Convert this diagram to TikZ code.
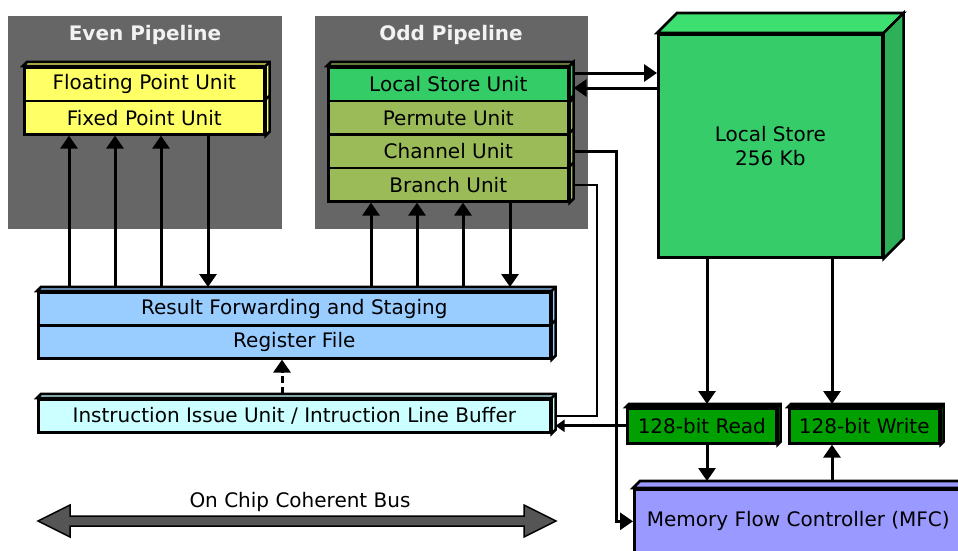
\documentclass[tikz,border=0pt]{standalone}
\usepackage{fontspec}
\setmainfont{DejaVu Sans}
\usetikzlibrary{arrows.meta,calc}
\definecolor{panelgray}{HTML}{666666}
\definecolor{unityellow}{HTML}{FFFF66}
\definecolor{lsugreen}{HTML}{33CC66}
\definecolor{olive}{HTML}{9BBB59}
\definecolor{rfblue}{HTML}{99CCFF}
\definecolor{iiucyan}{HTML}{CCFFFF}
\definecolor{busgreen}{HTML}{00A000}
\definecolor{mfcblue}{HTML}{9999FF}
\definecolor{lsfront}{HTML}{36CC6A}
\definecolor{lstop}{HTML}{3DE070}
\definecolor{lsside}{HTML}{2EB058}
\definecolor{titlewhite}{HTML}{F2F2F2}
\definecolor{busfill}{HTML}{555555}
\newcommand{\stackfaces}[4]{%
  \draw[boxline, fill=#4] (#1.north west) -- ++(#3,-#3) -- ([shift={(#3,-#3)}]#1.north east)
    -- ([shift={(#3,-#3)}]#2.south east) -- (#2.south east) -- (#1.north east) -- cycle;
  \draw[boxline] (#1.north east) -- ++(#3,-#3);}
\newcommand{\sidetick}[2]{\draw[boxline] (#1.north east) -- ++(#2,-#2);}
\begin{document}
\begin{tikzpicture}[x=1pt,y=-1pt,
  txt/.style={font=\fontsize{20}{24}\selectfont},
  boxline/.style={line width=2.6pt, line join=miter},
  panel/.style={fill=panelgray, anchor=north west, inner sep=0pt},
  title/.style={font=\fontsize{20}{24}\selectfont\bfseries, text=titlewhite},
  unitbox/.style={draw, boxline, anchor=north west, inner sep=0pt, font=\fontsize{20}{24}\selectfont},
  arr/.style={line width=3pt, -{Triangle[width=17pt,length=13pt]}},
  arrsmall/.style={line width=3pt, -{Triangle[width=12pt,length=9pt]}},
  thinline/.style={line width=2pt},
]
\useasboundingbox (0,0) rectangle (958,550);

% panels
\node[panel, minimum width=274pt, minimum height=213pt] (evenbg) at (8,16) {};
\node[panel, minimum width=273pt, minimum height=213pt] (oddbg) at (315,16) {};
\node[title] (evenT) at (145,35) {Even Pipeline};
\node[title] (oddT) at (451,35) {Odd Pipeline};

% even pipeline units
\node[unitbox, fill=unityellow, minimum width=240pt, minimum height=33.5pt] (fpu) at (23,66) {Floating Point Unit};
\node[unitbox, fill=unityellow, minimum width=240pt, minimum height=33.5pt] (fxu) at (23,99.5) {Fixed Point Unit};
\stackfaces{fpu}{fxu}{4}{unityellow}
\sidetick{fxu}{4}

% odd pipeline units
\node[unitbox, fill=lsugreen, minimum width=240pt, minimum height=33.5pt] (lsu) at (327,66) {Local Store Unit};
\node[unitbox, fill=olive, minimum width=240pt, minimum height=33.5pt] (pu) at (327,99.5) {Permute Unit};
\node[unitbox, fill=olive, minimum width=240pt, minimum height=33.5pt] (cu) at (327,133) {Channel Unit};
\node[unitbox, fill=olive, minimum width=240pt, minimum height=33.5pt] (bu) at (327,166.5) {Branch Unit};
\stackfaces{lsu}{bu}{4}{olive}
\draw[boxline, fill=lsugreen] (lsu.north east) -- ++(4,-4) -- ([shift={(4,-4)}]lsu.south east) -- (lsu.south east) -- cycle;
\sidetick{pu}{4}\sidetick{cu}{4}\sidetick{bu}{4}

% local store
\node[unitbox, fill=lsfront, minimum width=224pt, minimum height=223pt, align=center] (ls) at (657,33) {Local Store\\256 Kb};
\draw[boxline, fill=lstop] (ls.north west) -- ++(20,-20) -- ([shift={(20,-20)}]ls.north east) -- (ls.north east) -- cycle;
\draw[boxline, fill=lsside] (ls.north east) -- ++(20,-20) -- ([shift={(20,-20)}]ls.south east) -- (ls.south east) -- cycle;

% register file stack
\node[unitbox, fill=rfblue, minimum width=512pt, minimum height=33pt] (rf) at (37,291) {Result Forwarding and Staging};
\node[unitbox, fill=rfblue, minimum width=512pt, minimum height=33pt] (regf) at (37,324) {Register File};
\stackfaces{rf}{regf}{4}{rfblue}
\sidetick{regf}{4}

% instruction issue unit
\node[unitbox, fill=iiucyan, minimum width=512pt, minimum height=33pt] (iiu) at (37,398) {Instruction Issue Unit / Intruction Line Buffer};
\stackfaces{iiu}{iiu}{4}{iiucyan}

% 128-bit read / write
\node[unitbox, fill=busgreen, minimum width=149pt, minimum height=35pt] (read) at (626,407) {128-bit Read};
\stackfaces{read}{read}{3}{busgreen}
\node[unitbox, fill=busgreen, minimum width=150pt, minimum height=35pt] (write) at (788,407) {128-bit Write};
\stackfaces{write}{write}{3}{busgreen}

% MFC
\node[unitbox, fill=mfcblue, minimum width=328pt, minimum height=64pt] (mfc) at (633,488) {Memory Flow Controller (MFC)};
\stackfaces{mfc}{mfc}{7}{mfcblue}

% helper coordinates
\coordinate (rftop) at ([yshift=4pt]rf.north);
\coordinate (iiutop) at ([yshift=4pt]iiu.north);
\coordinate (mfctop) at ([yshift=7pt]mfc.north);
\coordinate (readtop) at ([yshift=3pt]read.north);
\coordinate (writetop) at ([yshift=3pt]write.north);
\coordinate (lsuR) at ([xshift=4pt]lsu.east);
\coordinate (cuR) at ([xshift=4pt]cu.east);
\coordinate (buR) at ([xshift=4pt]bu.east);
\coordinate (iiuR) at ([xshift=4pt]iiu.east);
\coordinate (e1) at (69,0);
\coordinate (e2) at (115,0);
\coordinate (e3) at (161,0);
\coordinate (e4) at (208,0);
\coordinate (o1) at (371,0);
\coordinate (o2) at (417,0);
\coordinate (o3) at (463,0);
\coordinate (o4) at (510,0);
\coordinate (ya) at (0,73);
\coordinate (yb) at (0,88);
\coordinate (chx) at (616,0);
\coordinate (brx) at (597,0);
\coordinate (rx) at (707,0);
\coordinate (wx) at (832,0);
\coordinate (dx) at (282,0);

% even pipeline connectors
\foreach \c in {e1,e2,e3} \draw[arr] (rftop -| \c) -- (fxu.south -| \c);
\draw[arr] (fxu.south -| e4) -- (rftop -| e4);
% odd pipeline connectors
\foreach \c in {o1,o2,o3} \draw[arr] (rftop -| \c) -- (bu.south -| \c);
\draw[arr] (bu.south -| o4) -- (rftop -| o4);

% LSU <-> local store
\draw[arr] (lsuR |- ya) -- (ls.west |- ya);
\draw[arr] (ls.west |- yb) -- (lsuR |- yb);

% channel unit -> MFC
\draw[arr] (cuR) -- (cuR -| chx) -- (chx |- mfc.west) -- (mfc.west);
% branch unit -> IIU
\draw[thinline] (buR) -- (buR -| brx) -- (brx |- iiu.east) -- (iiuR |- iiu.east);
% read -> IIU
\draw[arrsmall] (read.west) -- (iiuR |- read.west);

% local store -> read / write
\draw[arr] (ls.south -| rx) -- (readtop -| rx);
\draw[arr] (ls.south -| wx) -- (writetop -| wx);
\draw[arr] (read.south -| rx) -- (mfctop -| rx);
\draw[arr] (mfctop -| wx) -- (write.south -| wx);

% IIU -> register file (dashed)
\draw[arr, dash pattern=on 7pt off 4pt] (iiutop -| dx) -- (regf.south -| dx);

% on chip coherent bus
\draw[fill=busfill, line width=1.5pt, line join=miter]
  (38,521) -- (70,505) -- (70,516) -- (524,516) -- (524,505) -- (556,521)
  -- (524,537) -- (524,526) -- (70,526) -- (70,537) -- cycle;
\node[txt] (bus) at (300,502) {On Chip Coherent Bus};
\end{tikzpicture}
\end{document}
